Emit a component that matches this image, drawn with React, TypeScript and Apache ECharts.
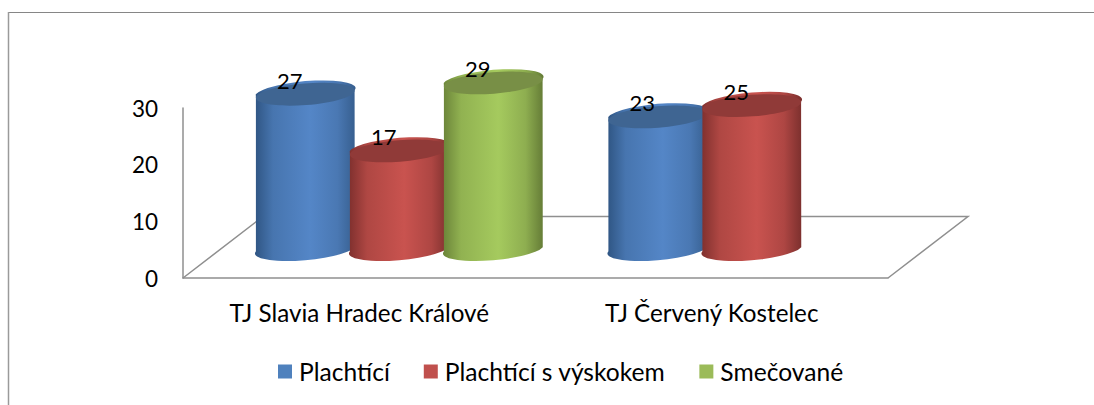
import React, { useEffect, useRef } from "react";
import * as echarts from "echarts";

const categories = ["TJ Slavia Hradec Králové", "TJ Červený Kostelec"];
const seriesNames = ["Plachtící", "Plachtící s výskokem", "Smečované"];
const plachtici = [27, 23];
const plachticiVyskok = [17, 25];
const smecovane: (number | null)[] = [29, null];
const yTicks = { min: 0, max: 30, interval: 10 };

const palette = [
  { legend: "#4f81bd", edgeL: "#2f5583", mid: "#5486c7", edgeR: "#365e8e", top: "#3f6592" },
  { legend: "#c0504d", edgeL: "#7f302e", mid: "#c9534f", edgeR: "#7b2f2d", top: "#903a38" },
  { legend: "#9bbb59", edgeL: "#6b8439", mid: "#a5ca5e", edgeR: "#647b36", top: "#788f46" },
];

const DEPTH_X = 80;
const DEPTH_Y = 61.5;
const SLOT = 94;
const RX = 49.5;
const RY = 10.8;
const TILT = -4.5;
const TILT_RAD = (TILT * Math.PI) / 180;

function mix(a: string, b: string, t: number) {
  const h = (s: string, i: number) => parseInt(s.slice(i, i + 2), 16);
  const c = [1, 3, 5].map((i) => Math.round(h(a, i) + (h(b, i) - h(a, i)) * t));
  return `rgb(${c[0]},${c[1]},${c[2]})`;
}

function cylinder(params: any, api: any) {
  const cat = api.value(0);
  const val = api.value(1);
  const sIdx = params.seriesIndex - 1;
  const base = api.coord([cat, 0]);
  const unit = api.size([0, 1])[1];
  const cx = base[0] + DEPTH_X / 2 + (sIdx - 1) * SLOT;
  const by = base[1] - DEPTH_Y / 2;
  const ty = by - val * unit;
  const dx = RX * Math.cos(TILT_RAD);
  const dy = RX * Math.sin(TILT_RAD);
  const p = palette[sIdx];
  const side =
    `M ${cx - dx} ${ty - dy} L ${cx - dx} ${by - dy} ` +
    `A ${RX} ${RY} ${TILT} 0 0 ${cx + dx} ${by + dy} ` +
    `L ${cx + dx} ${ty + dy} ` +
    `A ${RX} ${RY} ${TILT} 0 0 ${cx - dx} ${ty - dy} Z`;
  return {
    type: "group",
    children: [
      {
        type: "path",
        shape: { pathData: side },
        style: {
          fill: new echarts.graphic.LinearGradient(0, 0, 1, 0, [
            { offset: 0, color: p.edgeL },
            { offset: 0.18, color: mix(p.edgeL, p.mid, 0.65) },
            { offset: 0.55, color: p.mid },
            { offset: 0.82, color: mix(p.edgeR, p.mid, 0.65) },
            { offset: 1, color: p.edgeR },
          ]),
        },
      },
      {
        type: "ellipse",
        x: cx,
        y: ty,
        rotation: -TILT_RAD,
        shape: { cx: 0, cy: 0, rx: RX, ry: RY },
        style: { fill: p.top },
      },
      {
        type: "text",
        x: cx - 15.5,
        y: ty - 14,
        style: {
          text: String(val),
          fill: "#000",
          font: "22px Lato",
          align: "center",
          verticalAlign: "middle",
        },
      },
    ],
  };
}

function floor(params: any) {
  const g = params.coordSys;
  const bottom = g.y + g.height;
  return {
    type: "polyline",
    shape: {
      points: [
        [g.x, bottom],
        [g.x + DEPTH_X, bottom - DEPTH_Y],
        [g.x + g.width + DEPTH_X, bottom - DEPTH_Y],
        [g.x + g.width, bottom],
      ],
    },
    style: { stroke: "#8f8f8f", lineWidth: 1.5, fill: "none" },
  };
}

const toData = (arr: (number | null)[]) =>
  arr.flatMap((v, i) => (v === null ? [] : [[i, v]]));

export default function App() {
  const ref = useRef<HTMLDivElement>(null);
  useEffect(() => {
    document.body.style.margin = "0";
    const chart = echarts.init(ref.current!, null, { renderer: "svg" });
    const font = "Lato";
    const valueSets = [plachtici, plachticiVyskok, smecovane];
    chart.setOption({
      animation: false,
      backgroundColor: "#fff",
      textStyle: { fontFamily: font },
      grid: { left: 183, top: 108, width: 705, height: 170, containLabel: false },
      xAxis: {
        type: "category",
        data: categories,
        axisTick: { show: false },
        axisLine: { show: true, lineStyle: { color: "#8f8f8f", width: 1.5 } },
        axisLabel: { color: "#000", fontSize: 24.2, fontFamily: font, margin: 22 },
        splitLine: { show: false },
      },
      yAxis: {
        type: "value",
        min: yTicks.min,
        max: yTicks.max,
        interval: yTicks.interval,
        axisTick: { show: false },
        axisLine: { show: true, lineStyle: { color: "#8f8f8f", width: 1.5 } },
        axisLabel: { color: "#000", fontSize: 22.5, fontFamily: font, margin: 25 },
        splitLine: { show: false },
      },
      legend: {
        data: seriesNames,
        left: 273,
        top: 354,
        icon: "rect",
        itemWidth: 14,
        itemHeight: 14,
        itemGap: 34,
        textStyle: { color: "#000", fontSize: 24.6, fontFamily: font, padding: [0, 0, 0, 2] },
        selectedMode: false,
      },
      graphic: [
        { type: "line", shape: { x1: 8, y1: 12.5, x2: 1094, y2: 12.5 }, style: { stroke: "#868686", lineWidth: 1 } },
        { type: "line", shape: { x1: 8.5, y1: 12, x2: 8.5, y2: 405 }, style: { stroke: "#9a9a9a", lineWidth: 1.5 } },
      ],
      series: [
        {
          type: "custom",
          name: "floor",
          silent: true,
          renderItem: floor,
          data: [[0, 0]],
          encode: { x: 0, y: 1 },
          z: 1,
        },
        ...seriesNames.map((name, i) => ({
          type: "custom",
          name,
          renderItem: cylinder,
          data: toData(valueSets[i]),
          encode: { x: 0, y: 1 },
          itemStyle: { color: palette[i].legend },
          clip: false,
          z: 3 + i,
        })),
      ],
    });
    return () => chart.dispose();
  }, []);
  return <div ref={ref} style={{ width: 1094, height: 405 }} />;
}
